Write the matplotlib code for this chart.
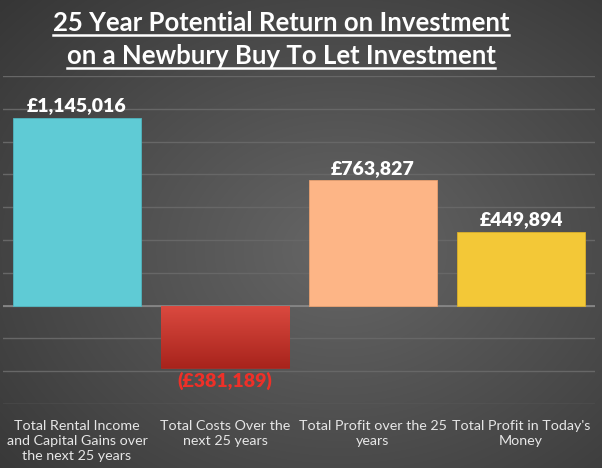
import matplotlib.pyplot as plt
import numpy as np
from matplotlib.lines import Line2D

# data
categories = ["Total Rental Income\nand Capital Gains over\nthe next 25 years",
              "Total Costs Over the\nnext 25 years",
              "Total Profit over the 25\nyears",
              "Total Profit in Today's\nMoney"]
values = [1145016, -381189, 763827, 449894]
value_labels = ["£1,145,016", "(£381,189)", "£763,827", "£449,894"]
bar_colors = ["#5fcbd5", "#cc3a31", "#fdb586", "#f3c837"]
label_colors = ["white", "#ee3028", "white", "white"]
title_lines = ["25 Year Potential Return on Investment",
               "on a Newbury Buy To Let Investment"]

W, H = 602, 468
fig = plt.figure(figsize=(W / 100, H / 100), dpi=100)

# radial grey background
bg = fig.add_axes([0, 0, 1, 1], zorder=-10)
yy, xx = np.mgrid[0:H, 0:W]
r = np.sqrt(((xx - 340) / 420.0) ** 2 + ((yy - 250) / 330.0) ** 2)
shade = np.clip(0.40 - 0.17 * r, 0.2, 0.42)
bg.imshow(np.dstack([shade] * 3), extent=[0, 1, 0, 1], aspect="auto")
bg.axis("off")

ax = fig.add_axes([3 / W, (H - 404) / H, 592 / W, 328 / H])
ax.set_facecolor("none")
x = np.arange(len(values))
bars = ax.bar(x, values, width=0.87, color=bar_colors, zorder=3,
              edgecolor=["#4fb5bf", "#a82a22", "#e8a070", "#dcb12a"], linewidth=0.6)

# red bar gradient
rb = bars[1]
grad = np.linspace(0, 1, 100).reshape(-1, 1)
top_c = np.array([0.86, 0.29, 0.25])
bot_c = np.array([0.66, 0.14, 0.11])
img = top_c * (1 - grad[..., None]) + bot_c * grad[..., None]
im = ax.imshow(img, extent=[rb.get_x(), rb.get_x() + rb.get_width(), values[1], 0],
               aspect="auto", zorder=4, origin="upper")
im.set_clip_path(rb)

ax.set_xlim(-0.5, 3.5)
ax.set_ylim(-600000, 1400000)
ax.set_yticks(np.arange(-600000, 1400001, 200000))
ax.grid(axis="y", color="#676767", linewidth=1.0, zorder=1)
ax.axhline(0, color="#8a8a8a", linewidth=1.2, zorder=2)
ax.tick_params(left=False, bottom=False, labelleft=False, labelbottom=False)
for s in ax.spines.values():
    s.set_visible(False)

for i, v in enumerate(values):
    if v >= 0:
        ax.text(i, v + 22000, value_labels[i], ha="center", va="bottom", color=label_colors[i],
                fontsize=14, fontweight="heavy", family="Lato", zorder=5)
    else:
        ax.text(i, v - 22000, value_labels[i], ha="center", va="top", color=label_colors[i],
                fontsize=14, fontweight="heavy", family="Lato", zorder=5)

for i, c in enumerate(categories):
    fig.text((3 + 74 + 148 * i) / W, 1 - 420 / H, c, ha="center", va="top",
             color="#e6e6e6", fontsize=10.3, family="Lato", linespacing=1.3)

# title with underline
fig.canvas.draw()
rend = fig.canvas.get_renderer()
for k, (line, yc) in enumerate(zip(title_lines, [23, 56])):
    t = fig.text(281 / W, 1 - yc / H, line, ha="center", va="center", color="white",
                 fontsize=18.5, fontweight="bold", family="Lato")
    bb = t.get_window_extent(renderer=rend)
    uy = 1 - (yc + 12) / H
    fig.add_artist(Line2D([bb.x0 / W, bb.x1 / W], [uy, uy], color="white", linewidth=1.8))

fig.savefig("out.png", dpi=100)
